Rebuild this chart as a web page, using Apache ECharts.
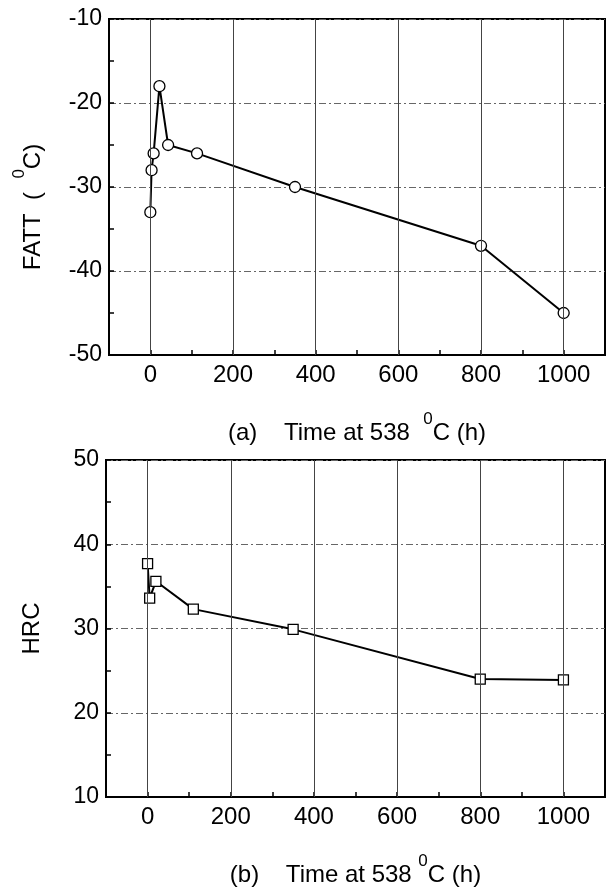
<!DOCTYPE html>
<html><head><meta charset="utf-8">
<script src="https://cdn.jsdelivr.net/npm/echarts@6/dist/echarts.min.js"></script>
<style>html,body{margin:0;padding:0;background:#fff}#c{width:608px;height:894px}</style>
</head><body><div id="c"></div>
<script>
const fattTime = [0, 3, 8, 22, 43, 113, 350, 800, 1000];
const fattValues = [-33, -28, -26, -18, -25, -26, -30, -37, -45];
const hrcTime = [0, 5, 20, 110, 350, 800, 1000];
const hrcValues = [37.7, 33.6, 35.6, 32.3, 29.9, 24.0, 23.9];
const xTickLabels = [0, 200, 400, 600, 800, 1000];

const FONT = 'Liberation Sans';
const rich = {
  n: {fontFamily: FONT, fontSize: 24, color: '#000', lineHeight: 34, verticalAlign: 'bottom'},
  s: {fontFamily: FONT, fontSize: 17, color: '#000', lineHeight: 16, verticalAlign: 'top'},
  p: {width: 40}
};

function xAxisCfg(gridIndex, name) {
  return {
    type: 'value', gridIndex, min: -100, max: 1100, interval: 100,
    name, nameLocation: 'middle', nameGap: 56,
    nameTextStyle: {rich},
    axisLine: {onZero: false, lineStyle: {color: '#000', width: 2}},
    axisTick: {inside: true, length: 5, lineStyle: {color: '#000', width: 1.5}},
    axisLabel: {
      margin: 8, fontFamily: FONT, fontSize: 24, color: '#000',
      formatter: v => xTickLabels.includes(v) ? String(v) : ''
    },
    splitLine: {show: false}
  };
}
function yAxisCfg(gridIndex, min, max, name, gap) {
  return {
    type: 'value', gridIndex, min, max, interval: 10,
    name, nameLocation: 'middle', nameGap: gap, nameRotate: 90,
    nameTextStyle: {rich},
    axisLine: {onZero: false, lineStyle: {color: '#000', width: 2}},
    axisTick: {inside: true, length: 5, lineStyle: {color: '#000', width: 1.5}},
    minorTick: {show: true, splitNumber: 2, length: 5, lineStyle: {color: '#000', width: 1.5}},
    axisLabel: {margin: 7, fontFamily: FONT, fontSize: 23, color: '#000'},
    splitLine: {show: true, lineStyle: {color: '#666', width: 1, type: [7, 3, 2, 3]}}
  };
}
function gridMarks() {
  return {
    silent: true, symbol: 'none', label: {show: false},
    lineStyle: {color: '#444', width: 1, type: 'solid'},
    data: xTickLabels.map(v => ({xAxis: v}))
  };
}

const chart = echarts.init(document.getElementById('c'), null, {renderer: 'canvas'});
chart.setOption({
  backgroundColor: '#fff',
  animation: false,
  grid: [
    {left: 109, right: -4, top: 19, height: 336, show: true, borderColor: '#000', borderWidth: 2, backgroundColor: 'transparent'},
    {left: 106, right: 0, top: 460, height: 337, show: true, borderColor: '#000', borderWidth: 2, backgroundColor: 'transparent'}
  ],
  xAxis: [
    xAxisCfg(0, '{n|(a)    Time at 538  }{s|0}{n|C (h)}'),
    xAxisCfg(1, '{n|(b)    Time at 538 }{s|0}{n|C (h)}')
  ],
  yAxis: [
    yAxisCfg(0, -50, -10, '{n|FATT  (  }{s|0}{n|C)}{p|}', 64),
    yAxisCfg(1, 10, 50, '{n|HRC}', 62)
  ],
  series: [
    {
      type: 'line', xAxisIndex: 0, yAxisIndex: 0,
      data: fattTime.map((t, i) => [t, fattValues[i]]),
      symbol: 'circle', symbolSize: 11,
      lineStyle: {color: '#000', width: 2},
      itemStyle: {color: '#fff', borderColor: '#000', borderWidth: 1.3},
      markLine: gridMarks(), z: 3
    },
    {
      type: 'line', xAxisIndex: 1, yAxisIndex: 1,
      data: hrcTime.map((t, i) => [t, hrcValues[i]]),
      symbol: 'rect', symbolSize: 10,
      lineStyle: {color: '#000', width: 2},
      itemStyle: {color: '#fff', borderColor: '#000', borderWidth: 1.3},
      markLine: gridMarks(), z: 3
    }
  ]
});
</script>
</body></html>
